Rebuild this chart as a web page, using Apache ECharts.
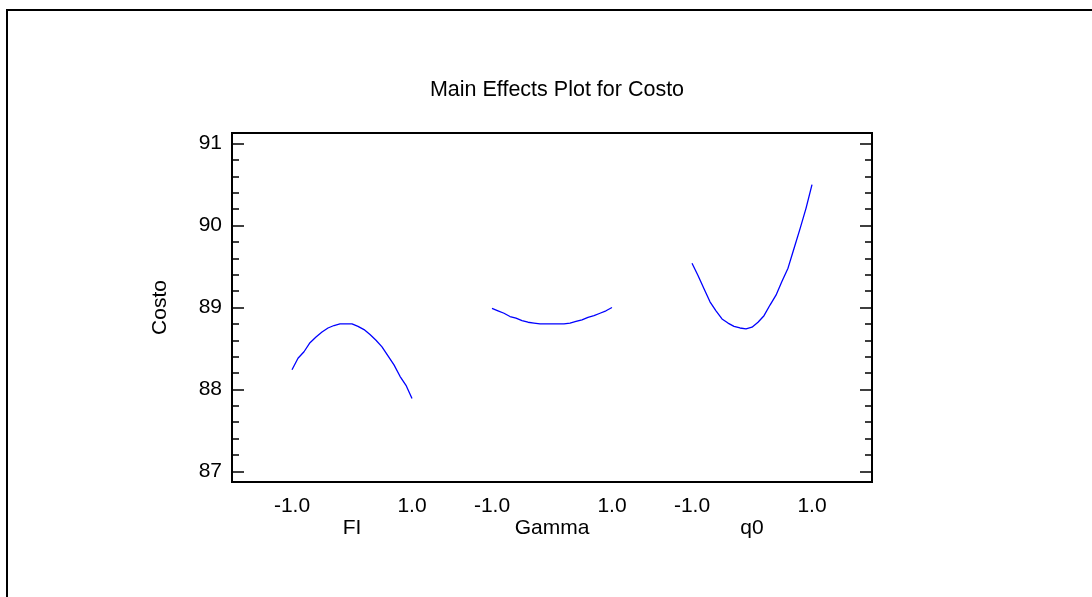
<!DOCTYPE html>
<html>
<head>
<meta charset="utf-8">
<script src="https://cdn.jsdelivr.net/npm/echarts@6/dist/echarts.min.js"></script>
<style>
html, body {margin: 0; padding: 0; background: #fff;}
#main {width: 1092px; height: 597px;}
</style>
</head>
<body>
<div id="main"></div>
<script>
// 数据
var factors = ['FI', 'Gamma', 'q0'];
var levels = [-1.0, -0.9, -0.8, -0.7, -0.6, -0.5, -0.4, -0.3, -0.2, -0.1, 0.0,
              0.1, 0.2, 0.3, 0.4, 0.5, 0.6, 0.7, 0.8, 0.9, 1.0];
var costoFI = [88.24, 88.38, 88.46, 88.57, 88.64, 88.70, 88.75, 88.78, 88.80, 88.80, 88.80,
               88.77, 88.73, 88.67, 88.60, 88.52, 88.41, 88.30, 88.16, 88.05, 87.89];
var costoGamma = [88.99, 88.96, 88.93, 88.89, 88.87, 88.84, 88.82, 88.81, 88.80, 88.80, 88.80,
                  88.80, 88.80, 88.81, 88.83, 88.85, 88.88, 88.90, 88.93, 88.96, 89.00];
var costoQ0 = [89.54, 89.39, 89.23, 89.07, 88.96, 88.86, 88.81, 88.77, 88.75, 88.74, 88.76,
               88.82, 88.90, 89.03, 89.15, 89.32, 89.48, 89.72, 89.96, 90.21, 90.50];
var yTicks = [87, 88, 89, 90, 91];
var xTickLevels = [-1.0, 1.0];

// 每个因子在横轴上的中心位置
var centers = [0, 10 / 3, 20 / 3];

var myChart = echarts.init(document.getElementById('main'));

function toPoints(vals, c) {
	var pts = [];
	for (var i = 0; i < levels.length; i++) {
		pts.push([c + levels[i], vals[i]]);
	}
	return pts;
}

var xLabelVals = [];
for (var k = 0; k < centers.length; k++) {
	for (var j = 0; j < xTickLevels.length; j++) {
		xLabelVals.push(centers[k] + xTickLevels[j]);
	}
}

var minorTicks = [];
for (var t = 870; t <= 910; t += 2) {
	minorTicks.push(t / 10);
}

function nearestCenter(v) {
	var best = 0;
	for (var i = 1; i < centers.length; i++) {
		if (Math.abs(v - centers[i]) < Math.abs(v - centers[best])) best = i;
	}
	return best;
}

var font = 'Liberation Sans, Arial, sans-serif';
var fs = 21;
var yMin = 86.87, yMax = 91.13;

var seriesData = [costoFI, costoGamma, costoQ0];
var series = [];
for (var s = 0; s < factors.length; s++) {
	series.push({
		name: factors[s],
		type: 'line',
		data: toPoints(seriesData[s], centers[s]),
		showSymbol: false,
		lineStyle: {color: '#0000ff', width: 1.3},
		itemStyle: {color: '#0000ff'},
		animation: false
	});
}

function yAx(pos, ticks, len, labels) {
	return {
		type: 'value', position: pos, min: yMin, max: yMax,
		axisLine: {show: false, onZero: false},
		splitLine: {show: false},
		axisTick: {show: true, inside: true, length: len, customValues: ticks,
			lineStyle: {color: '#000', width: 1.5}},
		axisLabel: labels ? {show: true, customValues: yTicks, color: '#000', fontSize: fs,
			fontFamily: font, margin: 10} : {show: false}
	};
}

var yAxes = [
	yAx('left', yTicks, 12, true),
	yAx('left', minorTicks, 7, false),
	yAx('right', yTicks, 12, false),
	yAx('right', minorTicks, 7, false)
];
yAxes[0].name = 'Costo';
yAxes[0].nameLocation = 'middle';
yAxes[0].nameGap = 61;
yAxes[0].nameTextStyle = {color: '#000', fontSize: fs, fontFamily: font};

option = {
	backgroundColor: '#fff',
	animation: false,
	title: {text: 'Main Effects Plot for Costo', left: 552, textAlign: 'center', top: 74,
		textStyle: {color: '#000', fontSize: 21.5, fontWeight: 'normal', fontFamily: font}},
	grid: {show: true, left: 232, right: 220, top: 133, bottom: 115,
		borderColor: '#000', borderWidth: 2, backgroundColor: 'transparent'},
	xAxis: [{
		type: 'value', min: -2, max: 26 / 3, position: 'bottom',
		axisLine: {show: false, onZero: false}, splitLine: {show: false}, axisTick: {show: false},
		axisLabel: {show: true, customValues: xLabelVals, color: '#000', fontSize: fs,
			fontFamily: font, margin: 14,
			formatter: function (v) { return (v - centers[nearestCenter(v)]).toFixed(1); }}
	}, {
		type: 'value', min: -2, max: 26 / 3, position: 'bottom', offset: 0,
		axisLine: {show: false, onZero: false}, splitLine: {show: false}, axisTick: {show: false},
		axisLabel: {show: true, customValues: centers, color: '#000', fontSize: fs,
			fontFamily: font, margin: 36,
			formatter: function (v) { return factors[nearestCenter(v)]; }}
	}],
	yAxis: yAxes,
	graphic: [{
		type: 'rect', silent: true,
		shape: {x: 7, y: 10, width: 1200, height: 700},
		style: {fill: null, stroke: '#000', lineWidth: 2}
	}],
	series: series
};
myChart.setOption(option);
</script>
</body>
</html>
